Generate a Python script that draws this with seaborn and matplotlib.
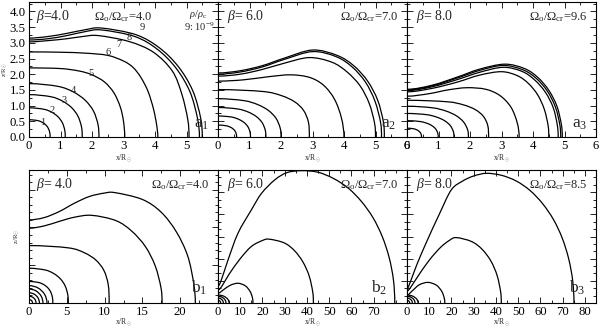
import matplotlib
matplotlib.use("Agg")
import matplotlib.pyplot as plt
import seaborn as sns
from matplotlib.path import Path
from matplotlib.patches import PathPatch
from matplotlib.ticker import MultipleLocator, FormatStrFormatter

sns.set_theme(style="ticks")
plt.rcParams['font.family'] = ['Liberation Serif', 'DejaVu Serif']
plt.rcParams['mathtext.fontset'] = 'custom'
plt.rcParams['mathtext.rm'] = 'Liberation Serif'
plt.rcParams['mathtext.it'] = 'Liberation Serif:italic'
plt.rcParams['mathtext.bf'] = 'Liberation Serif:bold'

# ---------------- data: iso-density contours, points (x, z) ----------------
A1_X = [
    [0, .274, .422, .537, .617, .661, .67],
    [0, .47, .725, .921, 1.059, 1.135, 1.15],
    [0, .691, 1.065, 1.354, 1.556, 1.668, 1.69],
    [0, .908, 1.399, 1.778, 2.045, 2.191, 2.22],
    [0, 1.0, 1.6, 2.0, 2.4, 2.7, 2.9, 3.0, 3.04],
    [0, 1.0, 1.8, 2.5, 3.0, 3.3, 3.55, 3.78, 3.95, 4.05, 4.09],
    [0, .6, 1.2, 1.7, 2.2, 3.18, 3.95, 4.55, 4.85, 5.04, 5.08],
    [0, .6, 1.2, 1.8, 2.3, 3.36, 4.08, 4.67, 5.11, 5.35, 5.41],
    [0, .6, 1.2, 1.8, 2.3, 3.39, 4.14, 4.75, 5.2, 5.45, 5.5],
]
A1_Z = [
    [.55, .523, .466, .381, .268, .128, 0],
    [.93, .884, .788, .644, .454, .217, 0],
    [1.35, 1.283, 1.143, .934, .659, .315, 0],
    [1.7, 1.615, 1.44, 1.176, .83, .396, 0],
    [2.2, 2.18, 2.1, 1.98, 1.75, 1.4, .95, .5, 0],
    [2.71, 2.7, 2.67, 2.6, 2.42, 2.22, 1.9, 1.45, .9, .4, 0],
    [3.03, 3.07, 3.13, 3.2, 3.23, 3.04, 2.7, 2.1, 1.37, .56, 0],
    [3.09, 3.13, 3.23, 3.36, 3.41, 3.2, 2.79, 2.19, 1.44, .59, 0],
    [3.15, 3.2, 3.3, 3.42, 3.47, 3.26, 2.84, 2.23, 1.47, .6, 0],
]
A1_LABEL_TEXT = ["1", "2", "3", "4", "5", "6", "7", "8", "9"]
A1_LABEL_X = [0.44, 0.73, 1.1, 1.42, 1.98, 2.51, 2.86, 3.18, 3.61]
A1_LABEL_Z = [0.45, 0.83, 1.17, 1.49, 2.02, 2.68, 2.96, 3.17, 3.48]

A2_X = [
    [0, .241, .372, .473, .543, .582, .59],
    [0, .421, .649, .825, .949, 1.017, 1.03],
    [0, .622, .958, 1.218, 1.4, 1.5, 1.52],
    [0, .818, 1.26, 1.602, 1.842, 1.974, 2.0],
    [0, 1.418, 2.004, 2.427, 2.714, 2.871, 2.9],
    [0, .8, 1.6, 2.3, 2.9, 3.35, 3.7, 3.92, 4.0],
    [0, .7, 1.4, 2.1, 2.9, 3.62, 4.1, 4.51, 4.8, 4.97, 5.0],
    [0, .7, 1.4, 2.1, 3.0, 3.75, 4.26, 4.68, 4.98, 5.16, 5.19],
    [0, .7, 1.4, 2.1, 3.0, 3.78, 4.31, 4.75, 5.07, 5.25, 5.28],
]
A2_Z = [
    [.38, .361, .322, .263, .185, .089, 0],
    [.67, .637, .567, .464, .327, .156, 0],
    [.94, .893, .796, .65, .459, .219, 0],
    [1.22, 1.159, 1.033, .844, .595, .284, 0],
    [1.51, 1.45, 1.321, 1.125, .85, .471, 0],
    [1.78, 1.82, 1.92, 1.98, 1.9, 1.65, 1.2, .6, 0],
    [1.94, 2.0, 2.15, 2.35, 2.53, 2.38, 2.07, 1.63, 1.07, .44, 0],
    [2.0, 2.07, 2.23, 2.47, 2.72, 2.56, 2.23, 1.75, 1.15, .47, 0],
    [2.04, 2.11, 2.27, 2.51, 2.77, 2.6, 2.27, 1.78, 1.17, .48, 0],
]

A3_X = [
    [0, .188, .29, .368, .424, .454, .46],
    [0, .405, .624, .793, .912, .977, .99],
    [0, .609, .939, 1.193, 1.372, 1.471, 1.49],
    [0, .798, 1.229, 1.562, 1.796, 1.925, 1.95],
    [0, 1.267, 1.79, 2.168, 2.424, 2.564, 2.59],
    [0, .7, 1.3, 1.9, 2.5, 2.95, 3.3, 3.5, 3.56],
    [0, .8, 1.6, 2.3, 3.0, 3.51, 3.86, 4.15, 4.36, 4.48, 4.5],
    [0, .8, 1.6, 2.3, 3.05, 3.65, 4.05, 4.39, 4.64, 4.77, 4.8],
    [0, .8, 1.6, 2.3, 3.05, 3.68, 4.1, 4.45, 4.71, 4.85, 4.88],
    [0, .8, 1.6, 2.3, 3.1, 3.73, 4.15, 4.5, 4.76, 4.9, 4.93],
]
A3_Z = [
    [.28, .266, .237, .194, .137, .065, 0],
    [.52, .494, .44, .36, .254, .121, 0],
    [.75, .713, .635, .519, .366, .175, 0],
    [.98, .931, .83, .678, .478, .228, 0],
    [1.17, 1.123, 1.024, .872, .659, .365, 0],
    [1.3, 1.38, 1.5, 1.57, 1.52, 1.32, .95, .45, 0],
    [1.44, 1.55, 1.75, 1.97, 2.08, 1.95, 1.7, 1.34, .88, .36, 0],
    [1.48, 1.6, 1.83, 2.06, 2.22, 2.09, 1.82, 1.43, .94, .39, 0],
    [1.5, 1.63, 1.88, 2.12, 2.28, 2.14, 1.87, 1.47, .96, .4, 0],
    [1.52, 1.65, 1.91, 2.16, 2.32, 2.18, 1.9, 1.49, .98, .4, 0],
]

B1_X = [
    [0, .235, .407, .47],
    [0, .465, .805, .93],
    [0, .69, 1.195, 1.38],
    [0, .925, 1.602, 1.85],
    [0, 1.19, 2.061, 2.38],
    [0, 1.288, 1.985, 2.523, 2.901, 3.109, 3.15],
    [0, 2.127, 3.276, 4.165, 4.789, 5.132, 5.2],
    [0, 5.18, 7.32, 8.87, 9.92, 10.49, 10.6],
    [0, 2, 4, 6, 8.3, 11.5, 13.6, 15.4, 16.7, 17.46, 17.6],
    [0, 2, 4, 6, 8, 10, 11.4, 15.0, 17.5, 19.5, 21.0, 21.8, 22.0],
]
B1_Z = [
    [.45, .39, .225, 0],
    [.9, .779, .45, 0],
    [1.35, 1.169, .675, 0],
    [1.85, 1.602, .925, 0],
    [2.3, 1.992, 1.15, 0],
    [2.85, 2.708, 2.414, 1.972, 1.391, .664, 0],
    [4.6, 4.37, 3.896, 3.183, 2.245, 1.072, 0],
    [7.6, 7.3, 6.65, 5.66, 4.28, 2.37, 0],
    [9.9, 10.2, 10.8, 11.35, 11.6, 10.9, 9.5, 7.46, 4.9, 2.0, 0],
    [11.0, 11.3, 12.1, 13.2, 14.1, 14.55, 14.6, 13.7, 12.0, 9.4, 6.2, 2.5, 0],
]

B2_X = [
    [0, .6, 1.04, 1.2],
    [0, 1.2, 2.08, 2.4],
    [0, 1.8, 3.12, 3.6],
    [0, 2.5, 4.33, 5.0],
    [0, 2.5, 5.5, 9.0, 12.35, 14.5, 15.5, 15.7],
    [0, 2, 5, 10, 15, 20, 23, 29.8, 34.4, 38.2, 41.0, 42.6, 42.9],
    [0, 1.5, 4.5, 9, 15, 19.6, 25.6, 31, 37.6, 44.9, 51.9, 58.6, 64.5, 69.7, 73.9, 77.0, 78.9, 79.5],
]
B2_Z = [
    [1.2, 1.04, .6, 0],
    [2.2, 1.91, 1.1, 0],
    [3.0, 2.6, 1.5, 0],
    [3.6, 3.12, 1.8, 0],
    [4.4, 6.0, 8.0, 8.9, 7.7, 5.1, 2.3, 0],
    [5.9, 8, 13, 20, 25.5, 28.2, 28.8, 27.1, 23.6, 18.5, 12.2, 5.0, 0],
    [7.7, 10.4, 19.4, 31.5, 42, 49.5, 55.6, 58.8, 59.7, 59.0, 56.2, 51.8, 45.8, 38.5, 29.9, 20.4, 10.4, 0],
]

B3_X = [
    [0, .6, 1.04, 1.2],
    [0, 1.2, 2.08, 2.4],
    [0, 1.8, 3.12, 3.6],
    [0, 2.5, 4.33, 5.0],
    [0, 2.5, 5.5, 9.4, 13.2, 15.6, 16.7, 17.0],
    [0, 2, 5, 10, 15, 19, 22.2, 29.1, 33.8, 37.7, 40.5, 42.1, 42.4],
    [0, 1.5, 4.5, 9, 14.5, 19.9, 25, 30, 35.7, 42.5, 49.2, 55.4, 61.0, 65.9, 69.8, 72.7, 74.5, 75.1],
]
B3_Z = [
    [1.2, 1.04, .6, 0],
    [2.2, 1.91, 1.1, 0],
    [3.0, 2.6, 1.5, 0],
    [3.6, 3.12, 1.8, 0],
    [3.6, 5.6, 8.2, 9.3, 8.05, 5.3, 2.4, 0],
    [5.4, 7.6, 12.2, 19.3, 25, 28.2, 29.5, 27.7, 24.2, 19, 12.5, 5.1, 0],
    [6.6, 9.5, 17.5, 28, 40, 51, 55, 57.3, 58.5, 57.6, 55, 50.7, 44.8, 37.6, 29.3, 20, 10.2, 0],
]

BETA = ["4.0", "6.0", "8.0", "4.0", "6.0", "8.0"]
OMEGA = ["4.0", "7.0", "9.6", "4.0", "7.0", "8.5"]
PANEL_LETTER = ["a", "a", "a", "b", "b", "b"]
PANEL_INDEX = ["1", "2", "3", "1", "2", "3"]

# ---------------- helpers ----------------
def contour_path(xs, zs):
    """Smooth curve passing through the read points (mirror-symmetric ends)."""
    pts = list(zip(xs, zs))
    ext = [(-xs[1], zs[1])] + pts + [(xs[-2], -zs[-2])]
    verts = [pts[0]]
    codes = [Path.MOVETO]
    for i in range(len(pts) - 1):
        p0, p1, p2, p3 = ext[i], ext[i + 1], ext[i + 2], ext[i + 3]
        c1 = (p1[0] + (p2[0] - p0[0]) / 6, p1[1] + (p2[1] - p0[1]) / 6)
        c2 = (p2[0] - (p3[0] - p1[0]) / 6, p2[1] - (p3[1] - p1[1]) / 6)
        verts += [c1, c2, p2]
        codes += [Path.CURVE4] * 3
    return Path(verts, codes)

# ---------------- layout ----------------
W, H = 600, 329
fig = plt.figure(figsize=(W / 100, H / 100), dpi=100)
fig.patch.set_facecolor("white")

cols = [(29, 218), (218, 407), (407, 596)]
rows = [(2, 137), (170, 303)]

def add_ax(col, row):
    x0, x1 = cols[col]
    y0, y1 = rows[row]
    return fig.add_axes([x0 / W, 1 - y1 / H, (x1 - x0) / W, (y1 - y0) / H])

panels = [
    (A1_X, A1_Z, (0, 6), (0, 4.3)),
    (A2_X, A2_Z, (0, 6), (0, 4.3)),
    (A3_X, A3_Z, (0, 6), (0, 4.3)),
    (B1_X, B1_Z, (0, 25), (0, 17.6)),
    (B2_X, B2_Z, (0, 85), (0, 60)),
    (B3_X, B3_Z, (0, 85), (0, 60)),
]
beta_x = [0.035, 0.05, 0.05, 0.035, 0.05, 0.05]
letter_x = [0.952, 0.942, 0.952, 0.945, 0.893, 0.945]
letter_y = [0.07, 0.07, 0.07, 0.075, 0.075, 0.075]

lw = 0.9
axes = []
for i, (XS, ZS, xl, yl) in enumerate(panels):
    ax = add_ax(i % 3, i // 3)
    axes.append(ax)
    for xs, zs in zip(XS, ZS):
        ax.add_patch(PathPatch(contour_path(xs, zs), facecolor="none",
                               edgecolor="black", linewidth=lw, clip_on=True))
    ax.set_xlim(*xl)
    ax.set_ylim(*yl)
    for s in ax.spines.values():
        s.set_linewidth(0.8)
        s.set_color("black")
    ax.tick_params(which="both", direction="in", top=True, right=True,
                   width=0.6, colors="black", labelsize=9.2)
    ax.tick_params(axis="x", pad=2)
    ax.tick_params(axis="y", pad=2.5)
    ax.tick_params(which="major", length=4.5)
    ax.tick_params(which="minor", length=2.5)
    ax.set_facecolor("white")

    sep = "=" if i == 0 else "= "
    ax.text(beta_x[i], 0.89, r"$\beta$" + sep + BETA[i],
            transform=ax.transAxes, fontsize=10, ha="left", va="center")
    om = r"$\Omega_\mathrm{o}/\Omega_\mathrm{cr}$=" + OMEGA[i]
    if i == 0:
        ax.text(0.5, 0.89, om, transform=ax.transAxes,
                fontsize=9, ha="center", va="center")
    else:
        ax.text(0.955, 0.89, om, transform=ax.transAxes,
                fontsize=9, ha="right", va="center")
    ax.text(letter_x[i], letter_y[i], PANEL_LETTER[i] + r"$_{" + PANEL_INDEX[i] + "}$",
            transform=ax.transAxes, fontsize=12.5, ha="right", va="baseline")
    ax.set_xlabel(r"x/R$_{\odot}$", fontsize=5.5)
    ax.xaxis.set_label_coords(0.5, -0.115 if i < 3 else -0.1)

# a-row ticks
for j in range(3):
    ax = axes[j]
    ax.xaxis.set_major_locator(MultipleLocator(1))
    ax.xaxis.set_minor_locator(MultipleLocator(0.5))
    ax.yaxis.set_major_locator(MultipleLocator(0.5))
    ax.yaxis.set_minor_locator(MultipleLocator(0.25))
    if j > 0:
        ax.set_yticklabels([])
axes[0].set_xticks([0, 1, 2, 3, 4, 5])
axes[0].yaxis.set_major_formatter(FormatStrFormatter("%.1f"))
axes[0].set_ylabel(r"z/R$_{\odot}$", fontsize=4.8)
axes[0].yaxis.set_label_coords(-0.103, 0.5)

# b-row ticks
axes[3].xaxis.set_minor_locator(MultipleLocator(2.5))
axes[3].set_xticks([0, 5, 10, 15, 20])
axes[3].yaxis.set_major_locator(MultipleLocator(5))
axes[3].yaxis.set_minor_locator(MultipleLocator(1))
axes[3].set_yticklabels([])
axes[3].set_ylabel(r"z/R$_{\odot}$", fontsize=5)
axes[3].yaxis.set_label_coords(-0.035, 0.5)
for j in (4, 5):
    ax = axes[j]
    ax.xaxis.set_minor_locator(MultipleLocator(5))
    ax.yaxis.set_major_locator(MultipleLocator(10))
    ax.yaxis.set_minor_locator(MultipleLocator(10 / 3))
    ax.set_yticklabels([])
axes[4].set_xticks([0, 10, 20, 30, 40, 50, 60, 70])
axes[5].set_xticks([0, 10, 20, 30, 40, 50, 60, 70, 80])

# contour numbers in a1
for t, x, z in zip(A1_LABEL_TEXT, A1_LABEL_X, A1_LABEL_Z):
    axes[0].text(x, z, t, fontsize=7.5, ha="center", va="center")
axes[0].text(0.895, 0.911, r"$\rho/\rho_\mathrm{c}$", transform=axes[0].transAxes, fontsize=7.5,
             ha="center", va="center")
axes[0].text(0.9, 0.815, r"9: 10$^{-9}$", transform=axes[0].transAxes, fontsize=7.5,
             ha="center", va="center")

fig.savefig("out.png", dpi=100, facecolor="white")
